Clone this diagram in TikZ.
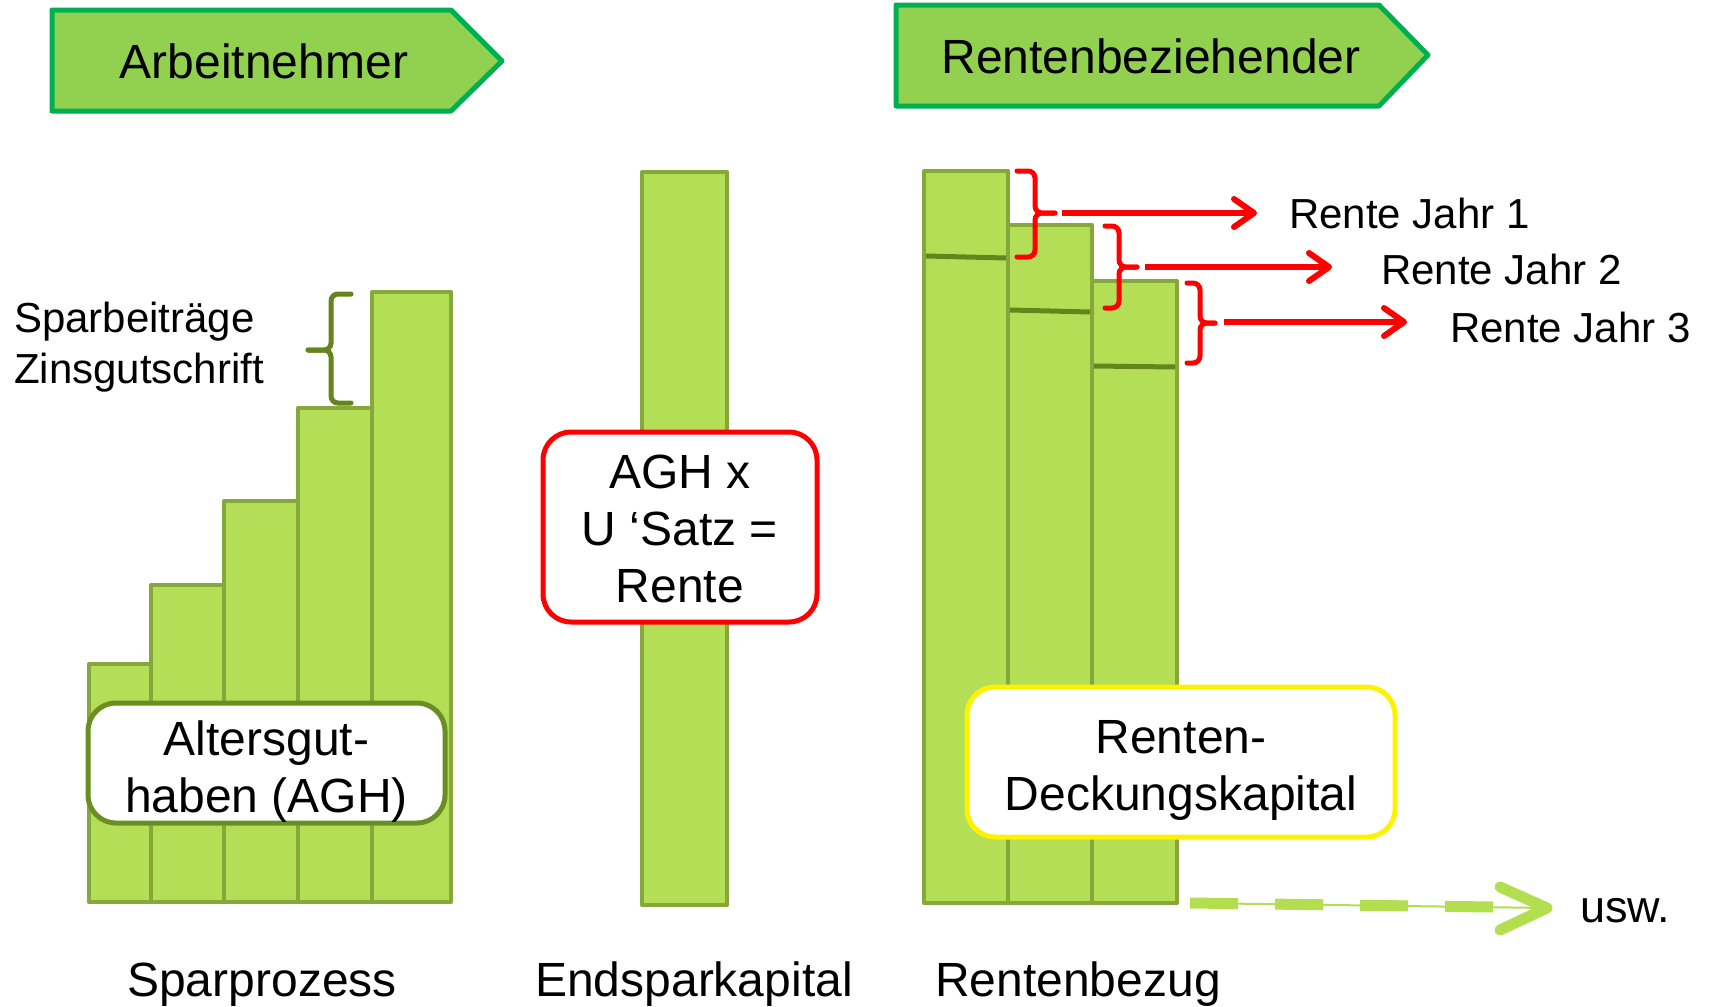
\documentclass[tikz,border=0pt]{standalone}
\usepackage{fontspec}
\setmainfont{Liberation Sans}
\usetikzlibrary{arrows.meta}
\definecolor{chevfill}{RGB}{146,208,80}
\definecolor{chevdraw}{RGB}{0,176,80}
\definecolor{barfill}{RGB}{180,222,85}
\definecolor{bardraw}{RGB}{134,168,58}
\definecolor{darkgreen}{RGB}{100,132,30}
\definecolor{boxgreen}{RGB}{107,142,35}
\definecolor{uswgreen}{RGB}{179,222,80}
\tikzset{
  chev/.style={fill=chevfill, draw=chevdraw, line width=5pt, line join=round},
  bar/.style={fill=barfill, draw=bardraw, line width=4pt, line join=round},
  divline/.style={draw=darkgreen, line width=5pt},
  big/.style={font=\fontsize{48}{57}\selectfont, inner sep=0pt},
  small/.style={font=\fontsize{42}{51}\selectfont, inner sep=0pt},
  rbox/.style={rectangle, rounded corners=28pt, line width=5pt, fill=white, align=center,
    font=\fontsize{48}{57}\selectfont, inner sep=0pt},
  redbrace/.style={draw=red, line width=5pt, rounded corners=7pt, line cap=round},
  greenbrace/.style={draw=darkgreen, line width=5pt, rounded corners=7pt, line cap=round},
  redarrow/.style={draw=red, line width=6pt, -{Straight Barb[length=20pt,width=28pt,round]}},
}
\begin{document}
\begin{tikzpicture}[x=1pt,y=-1pt]
\useasboundingbox (0,0) rectangle (1709,1007);

% header chevrons
\draw[chev] (52,10) -- (451,10) -- (502,61) -- (451,111) -- (52,111) -- cycle;
\node[big, anchor=base] (arb) at (264,78) {Arbeitnehmer};
\draw[chev] (896,5) -- (1379,5) -- (1428,55) -- (1379,106) -- (896,106) -- cycle;
\node[big, anchor=base] (rbz) at (1151,73) {Rentenbeziehender};

% Sparprozess bars
\draw[bar] (89,664) rectangle (151,902);
\draw[bar] (151,585) rectangle (224,902);
\draw[bar] (224,501) rectangle (298,902);
\draw[bar] (298,408) rectangle (372,902);
\draw[bar] (372,292) rectangle (451,902);

% green brace
\draw[greenbrace] (351,294) -- (331,294) -- (331,350) -- (308,350);
\draw[greenbrace] (351,403) -- (331,403) -- (331,350) -- (308,350);
\node[small, anchor=base west] (spb) at (14,332) {Sparbeiträge};
\node[small, anchor=base west] (zgs) at (14,383) {Zinsgutschrift};

% AGH box
\node[rbox, draw=boxgreen, minimum width=357pt, minimum height=120pt] (agh) at (266.5,763)
  {\rule{0pt}{51pt}Altersgut-\\haben (AGH)};

% Endsparkapital bar
\draw[bar] (642,172) rectangle (727,905);
\node[rbox, draw=red, minimum width=274pt, minimum height=190pt] (rente) at (680,527)
  {\rule{0pt}{38pt}AGH x\\U ‘Satz =\\Rente};

% Rentenbezug bars
\draw[bar] (924,171) rectangle (1008,903);
\draw[bar] (1008,225) rectangle (1092,903);
\draw[bar] (1092,281) rectangle (1177,903);
\draw[divline] (926,256) -- (1006,258);
\draw[divline] (1010,310) -- (1090,312);
\draw[divline] (1094,366) -- (1175,367);

\node[rbox, draw=yellow, minimum width=428pt, minimum height=150pt] (rdk) at (1181,762)
  {\rule{0pt}{50pt}Renten-\\Deckungskapital};

% red braces
\draw[redbrace] (1017,171) -- (1035,171) -- (1035,213) -- (1055,213);
\draw[redbrace] (1017,257) -- (1035,257) -- (1035,213) -- (1055,213);
\draw[redbrace] (1105,226) -- (1119,226) -- (1119,267) -- (1137,267);
\draw[redbrace] (1105,308) -- (1119,308) -- (1119,267) -- (1137,267);
\draw[redbrace] (1187,283) -- (1200,283) -- (1200,323) -- (1215,323);
\draw[redbrace] (1187,363) -- (1200,363) -- (1200,323) -- (1215,323);
\coordinate (b1) at (1062,213);
\coordinate (b2) at (1145,267);
\coordinate (b3) at (1224,322);

\node[small, anchor=west] (r1) at (1289,213) {Rente Jahr 1};
\node[small, anchor=west] (r2) at (1381,269) {Rente Jahr 2};
\node[small, anchor=west] (r3) at (1450,327) {Rente Jahr 3};

\draw[redarrow] (b1) -- ([xshift=-32pt]r1.west |- b1);
\draw[redarrow] (b2) -- ([xshift=-49pt]r2.west |- b2);
\draw[redarrow] (b3) -- ([xshift=-43pt]r3.west |- b3);

% usw arrow
\coordinate (us) at (1190,903);
\coordinate (ue) at (1547,908);
\draw[uswgreen, line width=2pt] (us) -- (ue);
\draw[uswgreen, line width=11pt, dash pattern=on 48pt off 37pt] (us) -- (1493,907);
\draw[uswgreen, line width=11pt, line cap=round, line join=round] (ue) ++(-47,-21) -- (ue) -- ++(-47,22);
\node[big, font=\fontsize{45}{52}\selectfont, anchor=base west] (usw) at (1580,922) {usw.};

% bottom labels
\node[big, anchor=base] (l1) at (262,996) {Sparprozess};
\node[big, anchor=base] (l2) at (694,996) {Endsparkapital};
\node[big, anchor=base] (l3) at (1078,996) {Rentenbezug};
\end{tikzpicture}
\end{document}
